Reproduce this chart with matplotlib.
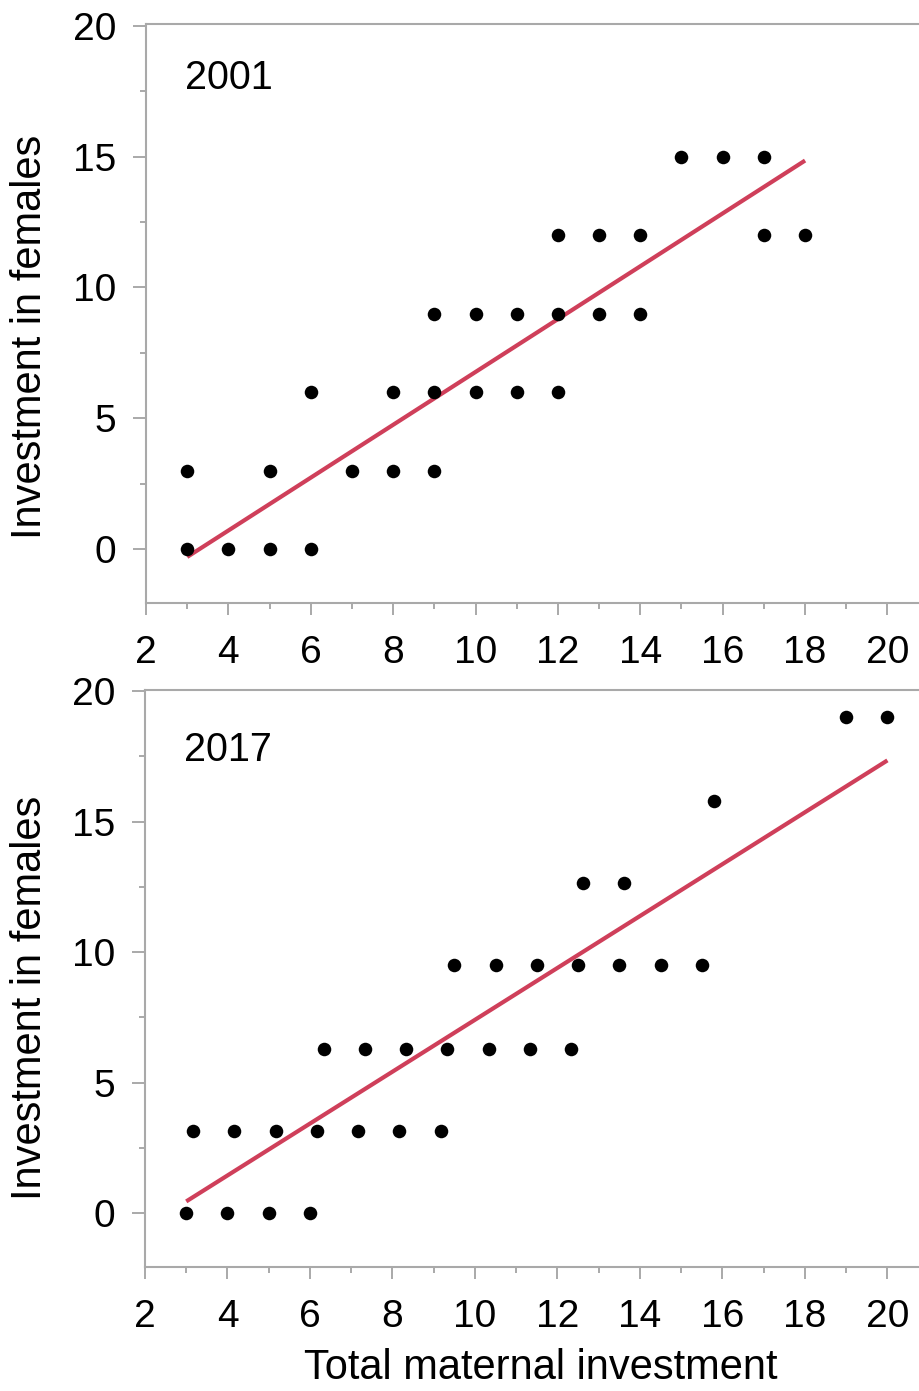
import matplotlib.pyplot as plt
from matplotlib.ticker import MultipleLocator

plt.rcParams['font.family'] = ['Liberation Sans', 'DejaVu Sans']

# 2001 data
x_2001 = [3, 4, 5, 6,
          3, 5, 7, 8, 9,
          6, 8, 9, 10, 11, 12,
          9, 10, 11, 12, 13, 14,
          12, 13, 14, 17, 18,
          15, 16, 17]
y_2001 = [0, 0, 0, 0,
          3, 3, 3, 3, 3,
          6, 6, 6, 6, 6, 6,
          9, 9, 9, 9, 9, 9,
          12, 12, 12, 12, 12,
          15, 15, 15]
fit_x_2001 = [3, 18]
fit_y_2001 = [-0.3, 14.85]

# 2017 data
x_2017 = [3, 4, 5, 6,
          3.17, 4.17, 5.17, 6.17, 7.17, 8.17, 9.17,
          6.33, 7.33, 8.33, 9.33, 10.33, 11.33, 12.33,
          9.5, 10.5, 11.5, 12.5, 13.5, 14.5, 15.5,
          12.62, 13.62,
          15.8,
          19, 20]
y_2017 = [0, 0, 0, 0,
          3.15, 3.15, 3.15, 3.15, 3.15, 3.15, 3.15,
          6.3, 6.3, 6.3, 6.3, 6.3, 6.3, 6.3,
          9.5, 9.5, 9.5, 9.5, 9.5, 9.5, 9.5,
          12.65, 12.65,
          15.8,
          19, 19]
fit_x_2017 = [3, 20]
fit_y_2017 = [0.45, 17.35]

line_color = "#cf3f5a"
axis_gray = "#a9a9a9"

fig = plt.figure(figsize=(9.2, 13.91), dpi=100)

panels = [
    ([0.1587, 0.5667, 0.8413, 0.4157], x_2001, y_2001, fit_x_2001, fit_y_2001, "2001", 0.9075),
    ([0.1576, 0.0894, 0.8424, 0.4146], x_2017, y_2017, fit_x_2017, fit_y_2017, "2017", 0.896),
]

for rect, xs, ys, fx, fy, year, ty in panels:
    ax = fig.add_axes(rect)
    ax.plot(fx, fy, color=line_color, linewidth=3.0, solid_capstyle='butt', zorder=2)
    ax.scatter(xs, ys, s=95, color="black", zorder=3, linewidths=0)

    ax.set_xlim(2, 20.79)
    ax.set_ylim(-2.05, 20.05)
    ax.xaxis.set_major_locator(MultipleLocator(2))
    ax.xaxis.set_minor_locator(MultipleLocator(1))
    ax.yaxis.set_major_locator(MultipleLocator(5))
    ax.yaxis.set_minor_locator(MultipleLocator(2.5))

    ax.spines['right'].set_visible(False)
    for side in ['left', 'bottom', 'top']:
        ax.spines[side].set_color(axis_gray)
        ax.spines[side].set_linewidth(1.5)

    ax.tick_params(axis='x', which='major', length=8.6, width=1.4, color=axis_gray,
                   labelsize=28, pad=15, direction='out')
    ax.tick_params(axis='x', which='minor', length=4.3, width=1.4, color=axis_gray, direction='out')
    ax.tick_params(axis='y', which='major', length=9.5, width=1.4, color=axis_gray,
                   labelsize=28, pad=12, direction='out')
    ax.tick_params(axis='y', which='minor', length=4.3, width=1.4, color=axis_gray, direction='out')

    ax.text(0.0504, ty, year, transform=ax.transAxes, fontsize=28.5,
            ha='left', va='center')

fig.text(30 / 920, 1 - 337 / 1391, "Investment in females", rotation=90,
         fontsize=30, ha='center', va='center')
fig.text(30 / 920, 1 - 998 / 1391, "Investment in females", rotation=90,
         fontsize=30, ha='center', va='center')
fig.text(541 / 920, 1 - 1368 / 1391, "Total maternal investment",
         fontsize=30, ha='center', va='center')

plt.savefig("out.png", dpi=100)
